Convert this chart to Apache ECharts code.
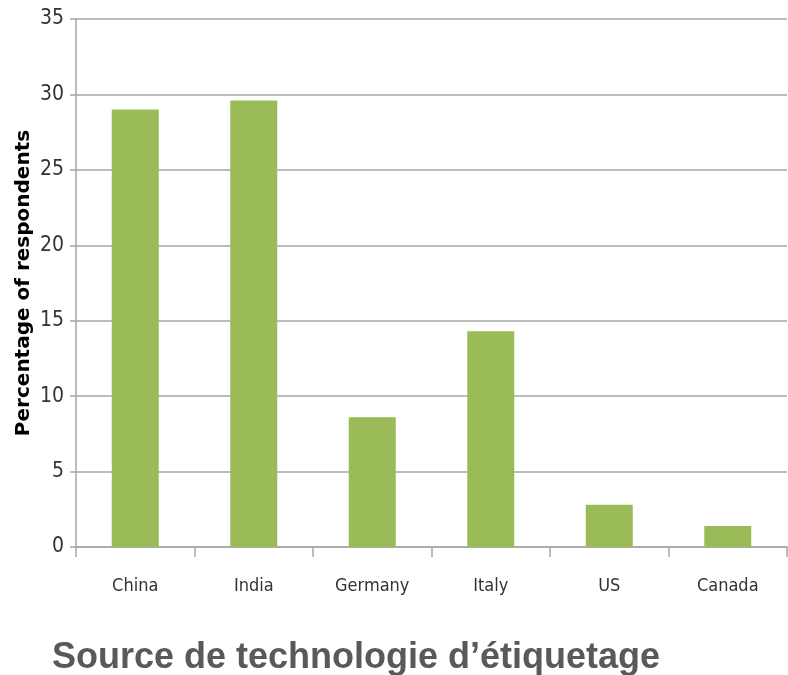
<!DOCTYPE html>
<html>
<head>
<meta charset="utf-8">
<script src="https://cdn.jsdelivr.net/npm/echarts@6/dist/echarts.min.js"></script>
<style>
  html, body { margin: 0; padding: 0; background: #fff; }
  #chart { width: 788px; height: 675px; }
</style>
</head>
<body>
<div id="chart"></div>
<script>
const countries = ["China", "India", "Germany", "Italy", "US", "Canada"];
const respondents = [29.0, 29.6, 8.6, 14.3, 2.8, 1.4];
const yTicks = { min: 0, max: 35, interval: 5 };
const narrowFont = "'Liberation Sans Narrow', 'DejaVu Sans Condensed', sans-serif";

const myChart = echarts.init(document.getElementById("chart"));
myChart.setOption({
  animation: false,
  title: {
    text: "Source de technologie d\u2019étiquetage",
    left: 47,
    top: 635,
    textStyle: {
      fontFamily: "'Liberation Sans', Arial, sans-serif",
      fontSize: 36,
      fontWeight: "bold",
      color: "#595959",
    },
  },
  grid: {
    left: 76,
    right: 1,
    top: 19,
    bottom: 128,
  },
  xAxis: {
    type: "category",
    data: countries,
    axisLine: { lineStyle: { color: "#a6a6a6", width: 1.5 } },
    axisTick: { show: true, length: 10, lineStyle: { color: "#a6a6a6", width: 1.5 } },
    axisLabel: {
      margin: 30,
      fontFamily: narrowFont,
      fontSize: 18,
      color: "#333",
    },
  },
  yAxis: {
    type: "value",
    min: yTicks.min,
    max: yTicks.max,
    interval: yTicks.interval,
    name: "Percentage of respondents",
    nameLocation: "middle",
    nameGap: 42,
    nameMoveOverlap: false,
    nameTextStyle: {
      fontFamily: "'DejaVu Sans', sans-serif",
      fontWeight: "bold",
      fontSize: 20,
      color: "#000",
    },
    axisLine: { show: true, lineStyle: { color: "#a6a6a6", width: 1.5 } },
    axisTick: { show: true, length: 6, lineStyle: { color: "#a6a6a6", width: 1.5 } },
    axisLabel: {
      margin: 12,
      fontFamily: narrowFont,
      fontSize: 21,
      color: "#333",
    },
    splitLine: { lineStyle: { color: "#a6a6a6", width: 1.5 } },
  },
  series: [
    {
      type: "bar",
      data: respondents,
      barWidth: 47,
      itemStyle: { color: "#9bbb59" },
    },
  ],
});
</script>
</body>
</html>
